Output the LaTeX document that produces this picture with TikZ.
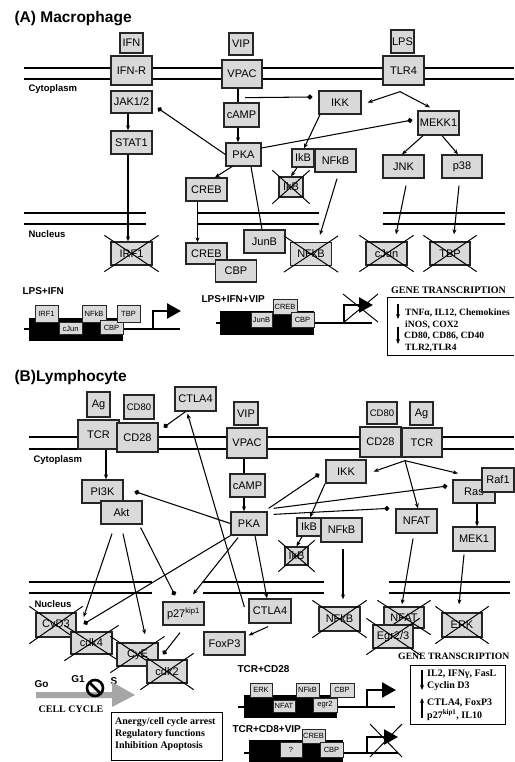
\documentclass[tikz,border=0pt]{standalone}
\usepackage{fontspec}
\setmainfont{Liberation Serif}
\setsansfont{Liberation Sans}
\usetikzlibrary{arrows.meta,calc}
\definecolor{boxgray}{HTML}{D9D9D9}
\definecolor{cycgray}{HTML}{A6A6A6}
\newcommand\mycross[1]{%
  \draw[xl] ($(#1.north west)+(-6,-6)$) -- ($(#1.south east)+(6,6)$);
  \draw[xl] ($(#1.south west)+(-6,6)$) -- ($(#1.north east)+(6,-6)$);}
\begin{document}
\begin{tikzpicture}[x=1pt,y=-1pt,
  bx/.style={draw=black!85, fill=boxgray, line width=1.3pt, inner sep=0pt,
    minimum width=41pt, minimum height=23pt, font=\sffamily\fontsize{11}{11}\selectfont},
  gb/.style={draw=black!85, fill=boxgray, line width=0.9pt, inner sep=0pt,
    font=\sffamily\fontsize{7.5}{7.5}\selectfont},
  ln/.style={draw=black, line width=1.05pt},
  arr/.style={ln, -{Stealth[length=5pt,width=4pt]}},
  inh/.style={ln, -{Circle[length=5pt]}},
  mem/.style={line width=2.9pt},
  xl/.style={line width=1pt},
  gline/.style={line width=2pt},
  prom/.style={line width=2.5pt, -{Triangle[length=14pt,width=15pt]}},
  lbl/.style={font=\sffamily\bfseries\fontsize{9.5}{9.5}\selectfont},
  lbl2/.style={font=\sffamily\bfseries\fontsize{10}{10}\selectfont},
  ttl/.style={font=\sffamily\bfseries\fontsize{15.5}{15.5}\selectfont},
  ser/.style={font=\rmfamily\bfseries\fontsize{10}{10}\selectfont, inner sep=0pt},
  serA/.style={font=\rmfamily\bfseries\fontsize{9.6}{9.6}\selectfont, inner sep=0pt}
]
\useasboundingbox (0,0) rectangle (514,762);

% ================= PANEL A =================
\node[ttl, anchor=west] (ta) at (11,19) {(A) Macrophage};
\draw[mem] (24,68) -- (514,68);
\draw[mem] (24,79) -- (514,79);
\foreach \a/\b in {24/146,198/319,383/505} {
  \draw[mem] (\a,213) -- (\b,213);
  \draw[mem] (\a,224) -- (\b,224);
}
\node[lbl, anchor=west] (cyA) at (25,89.5) {Cytoplasm};
\node[lbl, anchor=west] (nuA) at (25,234.5) {Nucleus};

\node[bx, minimum width=23, minimum height=20] (ifn) at (131.5,43) {IFN};
\node[bx, minimum height=29] (ifnr) at (131.5,70.5) {IFN-R};
\node[bx, minimum width=24, minimum height=22] (vip) at (241,44) {VIP};
\node[bx, minimum width=40, minimum height=28] (vpac) at (242,74) {VPAC};
\node[bx, minimum width=23, minimum height=23] (lps) at (402.5,41.5) {LPS};
\node[bx, minimum height=29] (tlr4) at (403.5,70.5) {TLR4};
\node[bx, minimum height=22] (jak) at (131.5,102) {JAK1/2};
\node[bx] (stat) at (131.5,142.5) {STAT1};
\node[bx, minimum width=35, minimum height=24] (camp) at (241.5,115) {cAMP};
\node[bx, minimum width=35] (pka) at (243.5,154.5) {PKA};
\node[bx, minimum width=42] (ikk) at (340,102.5) {IKK};
\node[bx, minimum height=24] (mekk) at (438.5,123) {MEKK1};
\node[bx, minimum width=22, minimum height=18] (ikb) at (303,158) {IkB};
\node[bx] (nfkb) at (335.5,160.5) {NFkB};
\node[bx, minimum width=24, minimum height=20] (ikbx) at (291,187) {IkB};
\mycross{ikbx}
\node[bx] (jnk) at (403.5,166.5) {JNK};
\node[bx, minimum width=40] (p38) at (462,166.5) {p38};
\node[bx] (creb1) at (206.5,189.5) {CREB};
\node[bx, minimum height=21] (creb2) at (206.5,253.5) {CREB};
\node[bx, minimum height=22] (cbp) at (236,271) {CBP};
\node[bx] (junb) at (264.5,241.5) {JunB};
\node[bx] (nfkbx) at (311,254) {NFkB};
\mycross{nfkbx}
\node[bx] (irf1x) at (131.5,253.5) {IRF1};
\mycross{irf1x}
\node[bx] (cjunx) at (386.5,253.5) {cJun};
\mycross{cjunx}
\node[bx, minimum width=40] (tbpx) at (450,253.5) {TBP};
\mycross{tbpx}

% connectors A
\draw[arr] ([xshift=-3.5]jak.south) -- ([xshift=-3.5]stat.north);
\draw[arr] ([xshift=-3.5]stat.south) -- ([xshift=-3.5]irf1x.north);
\draw[inh] (pka.west) -- ([xshift=5,yshift=-6]jak.east);
\draw[ln] ([xshift=-4]vpac.south) -- ([xshift=-3.5]camp.north);
\draw[arr] ([xshift=-3.5]camp.south) -- ([xshift=-5.5]pka.north);
\coordinate (vpo) at ([xshift=3,yshift=-9]vpac.south);
\draw[inh] (vpo) -- ([xshift=-6,yshift=5.5]ikk.west);
\coordinate (tlo) at ([xshift=-3.5,yshift=-6]tlr4.south);
\draw[arr] (tlo) -- ([xshift=6]ikk.east);
\draw[arr] (tlo) -- ([xshift=-8.5,yshift=3]mekk.north);
\draw[inh] ([yshift=6.5]pka.east) -- ([xshift=-5,yshift=3]mekk.west);
\draw[arr] ([xshift=-20]ikk.south) -- ([xshift=1]ikb.north);
\draw[arr] ([xshift=-6]ikb.south) -- (ikbx.north);
\draw[arr] ([xshift=-15.5]mekk.south) -- ([xshift=-1.5]jnk.north);
\draw[arr] ([xshift=3.5]mekk.south) -- ([xshift=-4]p38.north);
\draw[arr] ([xshift=2.5,yshift=-7]jnk.south) -- ([xshift=9.5,yshift=7]cjunx.north);
\draw[arr] ([xshift=-3,yshift=-7]p38.south) -- ([xshift=4,yshift=7]tbpx.north);
\draw[arr] ([xshift=-11.5]pka.south) -- ([xshift=8.5]creb1.north);
\draw[arr] ([xshift=-9]creb1.south) -- ([xshift=-9]creb2.north);
\draw[ln] ([xshift=7.5]pka.south) -- ([xshift=-2.5]junb.north);
\draw[arr] ([xshift=1.5,yshift=-6]nfkb.south) -- ([xshift=9,yshift=7]nfkbx.north);

% gene A1
\node[lbl2, anchor=west] (la1) at (19,291) {LPS+IFN};
\draw[gline] (24,329) -- (180,329);
\fill (29,318) rectangle (123,341);
\draw[prom] (153,330) -- (153,311) -- (181,311);
\node[gb, minimum width=23, minimum height=17] (a1irf) at (46.5,313.5) {IRF1};
\node[gb, minimum width=23, minimum height=12] (a1jun) at (70.5,328.5) {cJun};
\node[gb, minimum width=24, minimum height=17] (a1nfk) at (94,313.5) {NFkB};
\node[gb, minimum width=23, minimum height=14] (a1cbp) at (111.5,327.5) {CBP};
\node[gb, minimum width=23, minimum height=17] (a1tbp) at (128.5,313.5) {TBP};

% gene A2
\node[lbl2, anchor=west] (la2) at (198,299) {LPS+IFN+VIP};
\draw[gline] (216,323) -- (372,323);
\fill (220,311) rectangle (314,335);
\draw[prom] (344,324) -- (344,305) -- (373,305);
\draw[xl] (343,294) -- (378,322);
\draw[xl] (343,323) -- (378,294);
\node[gb, minimum width=21, minimum height=15] (a2jun) at (261.5,319.5) {JunB};
\node[gb, minimum width=24, minimum height=15] (a2crb) at (285,306.5) {CREB};
\node[gb, minimum width=23, minimum height=15] (a2cbp) at (302.5,319.5) {CBP};

% gene transcription A
\node[ser, anchor=west] (gta) at (391,290) {GENE TRANSCRIPTION};
\draw[line width=1pt] (514,297) -- (387,297) -- (387,355) -- (514,355);
\node[serA, anchor=west] (ta1) at (405,313) {TNFα, IL12, Chemokines};
\node[serA, anchor=west] (ta2) at (405,325) {iNOS, COX2};
\node[serA, anchor=west] (ta3) at (404,336.5) {CD80, CD86, CD40};
\node[serA, anchor=west] (ta4) at (405,348) {TLR2,TLR4};
\draw[arr] (398,304) -- (398,319);
\draw[arr] (398,327) -- (398,344);

% ================= PANEL B =================
\node[ttl, anchor=west] (tb) at (11,377) {(B)Lymphocyte};
\draw[mem] (29,437) -- (514,437);
\draw[mem] (29,449) -- (514,449);
\foreach \a/\b in {29/152,203/324,389/510} {
  \draw[mem] (\a,582) -- (\b,582);
  \draw[mem] (\a,593) -- (\b,593);
}
\node[lbl, anchor=west] (cyB) at (30,460) {Cytoplasm};
\node[lbl, anchor=west] (nuB) at (31,604) {Nucleus};

\node[bx, minimum width=23, minimum height=25] (ag1) at (98.5,404.5) {Ag};
\node[bx, minimum width=30, minimum height=24, font=\sffamily\fontsize{9.5}{9.5}\selectfont] (cd80a) at (139,407) {CD80};
\node[bx, minimum height=24] (ctla4a) at (195.5,399) {CTLA4};
\node[bx, minimum width=24] (vipb) at (246,413.5) {VIP};
\node[bx, minimum height=29] (tcr1) at (98.5,434.5) {TCR};
\node[bx, minimum height=29] (cd28a) at (137.5,437.5) {CD28};
\node[bx, minimum width=40, minimum height=30] (vpacb) at (247,443) {VPAC};
\node[bx] (pi3k) at (102.5,491.5) {PI3K};
\node[bx] (akt) at (121.5,512.5) {Akt};
\node[bx, minimum width=35] (campb) at (247.5,485.5) {cAMP};
\node[bx, minimum width=36] (pkab) at (249,523.5) {PKA};
\node[bx, minimum width=40] (ikkb) at (346,471.5) {IKK};
\node[bx, minimum height=30] (cd28b) at (380.5,442) {CD28};
\node[bx, minimum width=40, minimum height=29] (tcrb) at (422,442.5) {TCR};
\node[bx, minimum width=30, minimum height=22, font=\sffamily\fontsize{9.5}{9.5}\selectfont] (cd80b) at (382,413) {CD80};
\node[bx, minimum width=23, minimum height=23] (agb) at (421.5,413.5) {Ag};
\node[bx, minimum width=42] (ras) at (474,491.5) {Ras};
\node[bx, minimum width=32, minimum height=24] (raf) at (498,480) {Raf1};
\node[bx, minimum height=24] (nfat) at (416.5,521) {NFAT};
\node[bx, minimum width=42, minimum height=24] (mek1) at (474,539) {MEK1};
\node[bx, minimum width=24, minimum height=18] (ikbb) at (309,527) {IkB};
\node[bx, minimum height=24] (nfkbb) at (341.5,530) {NFkB};
\node[bx, minimum width=23, minimum height=18] (ikbbx) at (296.5,556) {IkB};
\mycross{ikbbx}
\node[bx, minimum height=24] (nfkbbx) at (339.5,619) {NFkB};
\mycross{nfkbbx}
\node[bx, minimum width=40, minimum height=21] (nfatx) at (404,617.5) {NFAT};
\mycross{nfatx}
\node[bx, minimum width=40] (egrx) at (393,636.5) {Egr2/3};
\mycross{egrx}
\node[bx, minimum width=40, minimum height=24] (erkx) at (462,625) {ERK};
\mycross{erkx}
\node[bx, minimum width=42, minimum height=24] (ctla4b) at (270,611) {CTLA4};
\node[bx] (foxp3) at (224.5,643.5) {FoxP3};
\node[bx] (p27) at (183.5,613.5) {p27\textsuperscript{kip1}};
\node[bx, minimum width=40, minimum height=24] (cycd3x) at (56,625) {CyD3};
\mycross{cycd3x}
\node[bx, minimum height=22] (cdk4x) at (91.5,643) {cdk4};
\mycross{cdk4x}
\node[bx] (cycex) at (137.5,654.5) {CyE};
\mycross{cycex}
\node[bx, minimum width=40] (cdk2x) at (167,671.5) {cdk2};
\mycross{cdk2x}

% connectors B
\draw[inh] ([xshift=-10]ctla4a.south) -- ([xshift=5,yshift=-5]cd28a.north east);
\draw[arr] ([xshift=-4,yshift=4]ctla4b.west) -- ([xshift=-8,yshift=-2]ctla4a.south);
\draw[arr] ([xshift=7.5]tcr1.south) -- ([xshift=3.5]pi3k.north);
\draw[inh] (pkab.west) -- ([xshift=11]pi3k.east);
\draw[ln] ([xshift=-3]vpacb.south) -- ([xshift=-3.5]campb.north);
\draw[arr] ([xshift=-3.5]campb.south) -- ([xshift=-5]pkab.north);
\draw[inh] ([xshift=1,yshift=3]pkab.north east) -- ([xshift=-6,yshift=-2.5]ikkb.west);
\draw[inh] ([xshift=6,yshift=3]pkab.north east) -- ([xshift=-5,yshift=5.5]ras.west);
\draw[inh] ([xshift=6,yshift=-3]pkab.north east) -- ([xshift=-6]nfat.north west);
\coordinate (tcro) at ([xshift=-17,yshift=-3]tcrb.south);
\draw[arr] (tcro) -- ([xshift=7]ikkb.east);
\draw[arr] (tcro) -- ([xshift=-16,yshift=6]ras.north);
\draw[arr] (tcro) -- ([xshift=1.5]nfat.north);
\draw[arr] ([xshift=3]ras.south) -- ([xshift=3]mek1.north);
\draw[arr] ([xshift=-21]ikkb.south) -- ([xshift=1]ikbb.north);
\draw[arr] ([xshift=-7]ikbb.south) -- (ikbbx.north);
\draw[arr] ([xshift=1.5,yshift=-6]nfkbb.south) -- ([xshift=3.5,yshift=7]nfkbbx.north);
\draw[arr] ([xshift=-3.5,yshift=-5]nfat.south) -- ([xshift=-2,yshift=2]nfatx.north);
\draw[arr] ([xshift=-10,yshift=-3]mek1.south) -- ([xshift=-3,yshift=8]erkx.north);
\draw[arr] ([xshift=6]pkab.south) -- ([xshift=-3]ctla4b.north);
\draw[arr] ([xshift=-2,yshift=-3]ctla4b.south) -- ([xshift=3,yshift=-4]foxp3.north east);
\draw[arr] ([xshift=-11,yshift=-2]pkab.south) -- ([xshift=9.5,yshift=7]p27.north);
\draw[inh] (pkab.south west) -- ([xshift=7,yshift=1]cycd3x.east);
\draw[arr] ([xshift=-9.5,yshift=-9]akt.south) -- ([xshift=7,yshift=8]cycd3x.east);
\draw[arr] ([xshift=1.5,yshift=-9]akt.south) -- ([xshift=7.5,yshift=8]cycex.north);
\draw[inh] ([xshift=-2,yshift=-3]akt.south east) -- ([xshift=-8.5,yshift=6]p27.north);
\draw[inh] ([xshift=-3.5,yshift=-7]p27.south) -- ([xshift=-4,yshift=5]cdk2x.north);

% cell cycle
\node[lbl2, anchor=west] (go) at (31,684) {Go};
\node[lbl2] (g1) at (78,679) {G1};
\node[lbl2] (sph) at (114,681) {S};
\fill[cycgray] (36,692) -- (112,692) -- (112,682) -- (135,695) -- (112,707) -- (112,698) -- (36,698) -- cycle;
\draw[line width=2.6pt] (95,688) circle (8);
\draw[line width=2.6pt] (89.5,682.5) -- (100.5,693.5);
\node[ser] (cc) at (71,709) {CELL CYCLE};
\draw[line width=1pt] (111,712) rectangle (222,760);
\node[ser, anchor=west] (an1) at (115,722) {Anergy/cell cycle arrest};
\node[ser, anchor=west] (an2) at (115,734.5) {Regulatory functions};
\node[ser, anchor=west] (an3) at (115,746.5) {Inhibition Apoptosis};

% gene B1
\node[lbl2, anchor=west] (lb1) at (234,669) {TCR+CD28};
\draw[gline] (238,707) -- (395,707);
\fill (244,695) rectangle (337,718);
\draw[prom] (367,708) -- (367,690) -- (396,690);
\node[gb, minimum width=22, minimum height=14] (b1erk) at (261,690) {ERK};
\node[gb, minimum width=22, minimum height=12] (b1nfa) at (284,706) {NFAT};
\node[gb, minimum width=23, minimum height=14] (b1nfk) at (307.5,690) {NFkB};
\node[gb, minimum width=24, minimum height=14] (b1egr) at (325,705) {egr2};
\node[gb, minimum width=24, minimum height=14] (b1cbp) at (342,690) {CBP};

% gene B2
\node[lbl2, anchor=west] (lb2) at (229,729) {TCR+CD8+VIP};
\draw[gline] (244,753) -- (398,753);
\fill (249,740) rectangle (343,762);
\draw[prom] (367,754) -- (367,737) -- (398,737);
\draw[xl] (370,724) -- (402,757);
\draw[xl] (370,757) -- (402,724);
\node[gb, minimum width=22, minimum height=15] (b2q) at (291,749.5) {?};
\node[gb, minimum width=23, minimum height=14] (b2crb) at (313.5,736) {CREB};
\node[gb, minimum width=23, minimum height=15] (b2cbp) at (331.5,749.5) {CBP};

% gene transcription B
\node[ser, anchor=west, font=\rmfamily\bfseries\fontsize{9.7}{9.7}\selectfont] (gtb) at (398,656.5) {GENE TRANSCRIPTION};
\draw[line width=1pt] (410,665) rectangle (505,724);
\node[ser, anchor=west] (tb1) at (427,674.5) {IL2, IFNγ, FasL};
\node[ser, anchor=west] (tb2) at (427,686.5) {Cyclin D3};
\node[ser, anchor=west] (tb3) at (427,703) {CTLA4, FoxP3};
\node[ser, anchor=west] (tb4) at (427,715) {p27\textsuperscript{kip1}, IL10};
\draw[arr] (422,670) -- (422,690);
\draw[arr] (422,718) -- (422,698);
\end{tikzpicture}
\end{document}
